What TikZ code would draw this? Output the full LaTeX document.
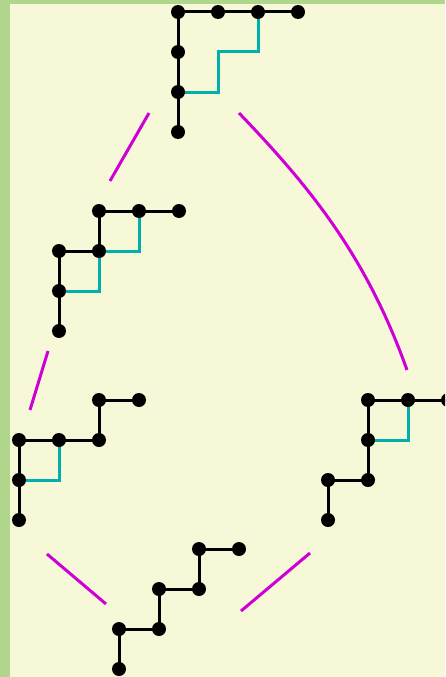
\documentclass[tikz,border=0pt]{standalone}
\definecolor{bg}{RGB}{247,248,215}
\definecolor{frame}{RGB}{176,214,140}
\definecolor{mag}{RGB}{206,0,214}
\definecolor{cy}{RGB}{0,176,172}
\tikzset{
  dot/.style={circle,fill=black,inner sep=0pt,minimum size=14pt},
  tree/.style={draw=black,line width=3pt},
  cpath/.style={draw=cy,line width=3pt},
  link/.style={draw=mag,line width=3pt},
}
\begin{document}
\begin{tikzpicture}[x=1pt,y=-1pt]
\useasboundingbox (0,0) rectangle (445,677);
\fill[frame] (0,0) rectangle (445,677);
\fill[bg] (10,4) rectangle (445,677);
\clip (0,0) rectangle (445,677);
% top tree
\coordinate (a1) at (178,132); \coordinate (a2) at (178,92); \coordinate (a3) at (178,52);
\coordinate (a4) at (178,12); \coordinate (a5) at (218,12); \coordinate (a6) at (258,12); \coordinate (a7) at (298,12);
\draw[cpath] (a2) -- (218,92) -- (218,52) -- (258,52) -- (a6);
\draw[tree] (a1) -- (a2) -- (a3) -- (a4) -- (a5) -- (a6) -- (a7);
\foreach \p in {a1,a2,a3,a4,a5,a6,a7} \node[dot] at (\p) {};
% second left
\coordinate (b1) at (59,331); \coordinate (b2) at (59,291); \coordinate (b3) at (59,251);
\coordinate (b4) at (99,251); \coordinate (b5) at (99,211); \coordinate (b6) at (139,211); \coordinate (b7) at (179,211);
\draw[cpath] (b2) -- (99,291) -- (b4) -- (139,251) -- (b6);
\draw[tree] (b1) -- (b2) -- (b3) -- (b4) -- (b5) -- (b6) -- (b7);
\foreach \p in {b1,b2,b3,b4,b5,b6,b7} \node[dot] at (\p) {};
% third left
\coordinate (c1) at (19,520); \coordinate (c2) at (19,480); \coordinate (c3) at (19,440);
\coordinate (c4) at (59,440); \coordinate (c5) at (99,440); \coordinate (c6) at (99,400); \coordinate (c7) at (139,400);
\draw[cpath] (c2) -- (59,480) -- (c4);
\draw[tree] (c1) -- (c2) -- (c3) -- (c4) -- (c5) -- (c6) -- (c7);
\foreach \p in {c1,c2,c3,c4,c5,c6,c7} \node[dot] at (\p) {};
% right
\coordinate (d1) at (328,520); \coordinate (d2) at (328,480); \coordinate (d3) at (368,480);
\coordinate (d4) at (368,440); \coordinate (d5) at (368,400); \coordinate (d6) at (408,400); \coordinate (d7) at (448,400);
\draw[cpath] (d4) -- (408,440) -- (d6);
\draw[tree] (d1) -- (d2) -- (d3) -- (d4) -- (d5) -- (d6) -- (d7);
\foreach \p in {d1,d2,d3,d4,d5,d6,d7} \node[dot] at (\p) {};
% bottom
\coordinate (e1) at (119,669); \coordinate (e2) at (119,629); \coordinate (e3) at (159,629);
\coordinate (e4) at (159,589); \coordinate (e5) at (199,589); \coordinate (e6) at (199,549); \coordinate (e7) at (239,549);
\draw[tree] (e1) -- (e2) -- (e3) -- (e4) -- (e5) -- (e6) -- (e7);
\foreach \p in {e1,e2,e3,e4,e5,e6,e7} \node[dot] at (\p) {};
% magenta links
\coordinate (m1s) at (149,113); \coordinate (m1e) at (110,181);
\coordinate (m2s) at (48,351); \coordinate (m2e) at (30,410);
\coordinate (m3s) at (47,554); \coordinate (m3e) at (106,604);
\coordinate (m4s) at (310,553); \coordinate (m4e) at (241,611);
\coordinate (m5s) at (239,113); \coordinate (m5e) at (407,370);
\draw[link] (m1s) -- (m1e);
\draw[link] (m2s) -- (m2e);
\draw[link] (m3s) -- (m3e);
\draw[link] (m4s) -- (m4e);
\draw[link] (m5s) .. controls (309,186) and (366,255) .. (m5e);
\end{tikzpicture}
\end{document}
